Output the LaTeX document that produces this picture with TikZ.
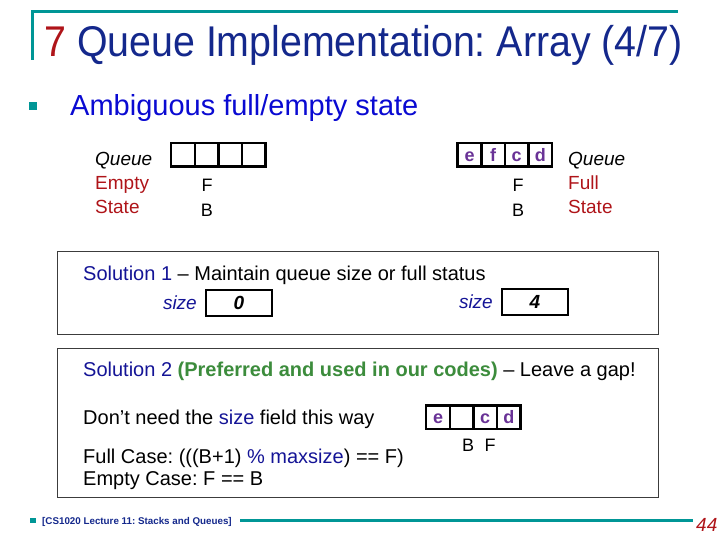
\documentclass[tikz,border=0pt]{standalone}
\usepackage{fontspec}
\setmainfont{Liberation Sans}
\usepackage{tikz}
\usetikzlibrary{positioning}
\definecolor{myteal}{RGB}{0,150,150}
\definecolor{mynavy}{RGB}{20,40,140}
\definecolor{myblue}{RGB}{10,10,210}
\definecolor{mysol}{RGB}{20,20,150}
\definecolor{myred}{RGB}{175,20,25}
\definecolor{mypurple}{RGB}{105,50,150}
\definecolor{mygreen}{RGB}{60,140,60}
\definecolor{mygrey}{RGB}{60,60,60}
\tikzset{
  txt/.style={anchor=base west, inner sep=0pt, font=\fontsize{20}{24}\selectfont},
  lbl/.style={anchor=base, inner sep=0pt, font=\fontsize{18}{22}\selectfont},
  side/.style={anchor=base west, inner sep=0pt, font=\fontsize{19}{24}\selectfont},
  cell/.style={rectangle, draw, line width=2.5pt, minimum width=23.6pt,
    minimum height=23.5pt, outer sep=0pt, inner sep=0pt,
    text height=12.5pt, text depth=0pt,
    font=\fontsize{18}{18}\selectfont\bfseries\color{mypurple}},
  sizebox/.style={rectangle, draw, line width=2pt, minimum width=66pt,
    minimum height=26pt, inner sep=0pt, outer sep=0pt,
    font=\fontsize{19}{19}\selectfont\bfseries\itshape},
  frame/.style={rectangle, draw=mygrey, line width=0.8pt, inner sep=0pt},
  bullet/.style={rectangle, fill=myteal, minimum size=8pt, inner sep=0pt}
}

\begin{document}
\frenchspacing
\begin{tikzpicture}[x=1pt, y=-1pt]
\useasboundingbox (0,0) rectangle (720,540);
% title
\draw[myteal, line width=3pt] (32,60) -- (32,12) -- (678,12);
\node[txt, font=\fontsize{43}{43}\selectfont] (title) at (44,57)
  {\scalebox{0.915}[1]{\textcolor{myred}{7} \textcolor{mynavy}{Queue Implementation: Array (4/7)}}};
\node[bullet] (bul1) at (33,106) {};
\node[txt, font=\fontsize{29}{29}\selectfont\color{myblue}] (amb) at (70,116) {Ambiguous full/empty state};
% empty queue
\node[side] (qe1) at (95,166) {\itshape Queue};
\node[side, text=myred] (qe2) at (95,190) {Empty};
\node[side, text=myred] (qe3) at (95,214) {State};
\node[cell] (ea) at (183,155) {};
\node[cell, right=0pt of ea] (eb) {};
\node[cell, right=0pt of eb] (ec) {};
\node[cell, right=0pt of ec] (ed) {};
\node[lbl] (ef) at (207,192) {F};
\node[lbl] (eback) at (207,216) {B};
% full queue
\node[cell] (fa) at (469.5,155) {e};
\node[cell, right=0pt of fa] (fb) {f};
\node[cell, right=0pt of fb] (fc) {c};
\node[cell, right=0pt of fc] (fd) {d};
\node[lbl] (ff) at (518,192) {F};
\node[lbl] (fback) at (518,216) {B};
\node[side] (qf1) at (568,166) {\itshape Queue};
\node[side, text=myred] (qf2) at (568,190) {Full};
\node[side, text=myred] (qf3) at (568,214) {State};
% Solution 1
\node[frame, minimum width=601pt, minimum height=83pt] (box1) at (357.5,292.5) {};
\node[txt] (sol1) at (83,280) {\textcolor{mysol}{Solution 1} -- Maintain queue size or full status};
\node[sizebox] (size0) at (239,303) {0};
\node[txt, anchor=base east, font=\fontsize{19}{19}\selectfont\itshape\color{mysol}] (sz0) at (197,309) {size};
\node[sizebox] (size4) at (535,302) {4};
\node[txt, anchor=base east, font=\fontsize{19}{19}\selectfont\itshape\color{mysol}] (sz4) at (493,308) {size};
% Solution 2
\node[frame, minimum width=601pt, minimum height=149pt] (box2) at (357.5,422.5) {};
\node[txt] (sol2) at (83,376) {\textcolor{mysol}{Solution 2} \textcolor{mygreen}{\bfseries(Preferred and used in our codes)} -- Leave a gap!};
\node[txt] (noneed) at (83,424) {Don’t need the \textcolor{mysol}{size} field this way};
\node[cell] (ga) at (438,417) {e};
\node[cell, right=0pt of ga] (gb) {};
\node[cell, right=0pt of gb] (gc) {c};
\node[cell, right=0pt of gc] (gd) {d};
\node[lbl] (gback) at (468,451) {B};
\node[lbl] (gf) at (490,451) {F};
\node[txt] (fullc) at (83,463) {Full Case: (((B+1) \textcolor{mysol}{\% maxsize}) == F)};
\node[txt] (emptyc) at (83,485) {Empty Case: F == B};
% footer
\node[bullet, minimum width=6pt, minimum height=5pt] (bul2) at (33,520) {};
\node[txt, font=\fontsize{9.8}{10}\selectfont\bfseries\color{mynavy}] (foot) at (42,524) {[CS1020 Lecture 11: Stacks and Queues]};
\node[txt, font=\fontsize{19}{19}\selectfont\itshape\color{myred}] (pageno) at (696,531) {44};
\coordinate (rulel) at (240,520);
\coordinate (ruler) at (693,520);
\draw[myteal, line width=3pt] (rulel) -- (ruler);
\end{tikzpicture}
\end{document}
